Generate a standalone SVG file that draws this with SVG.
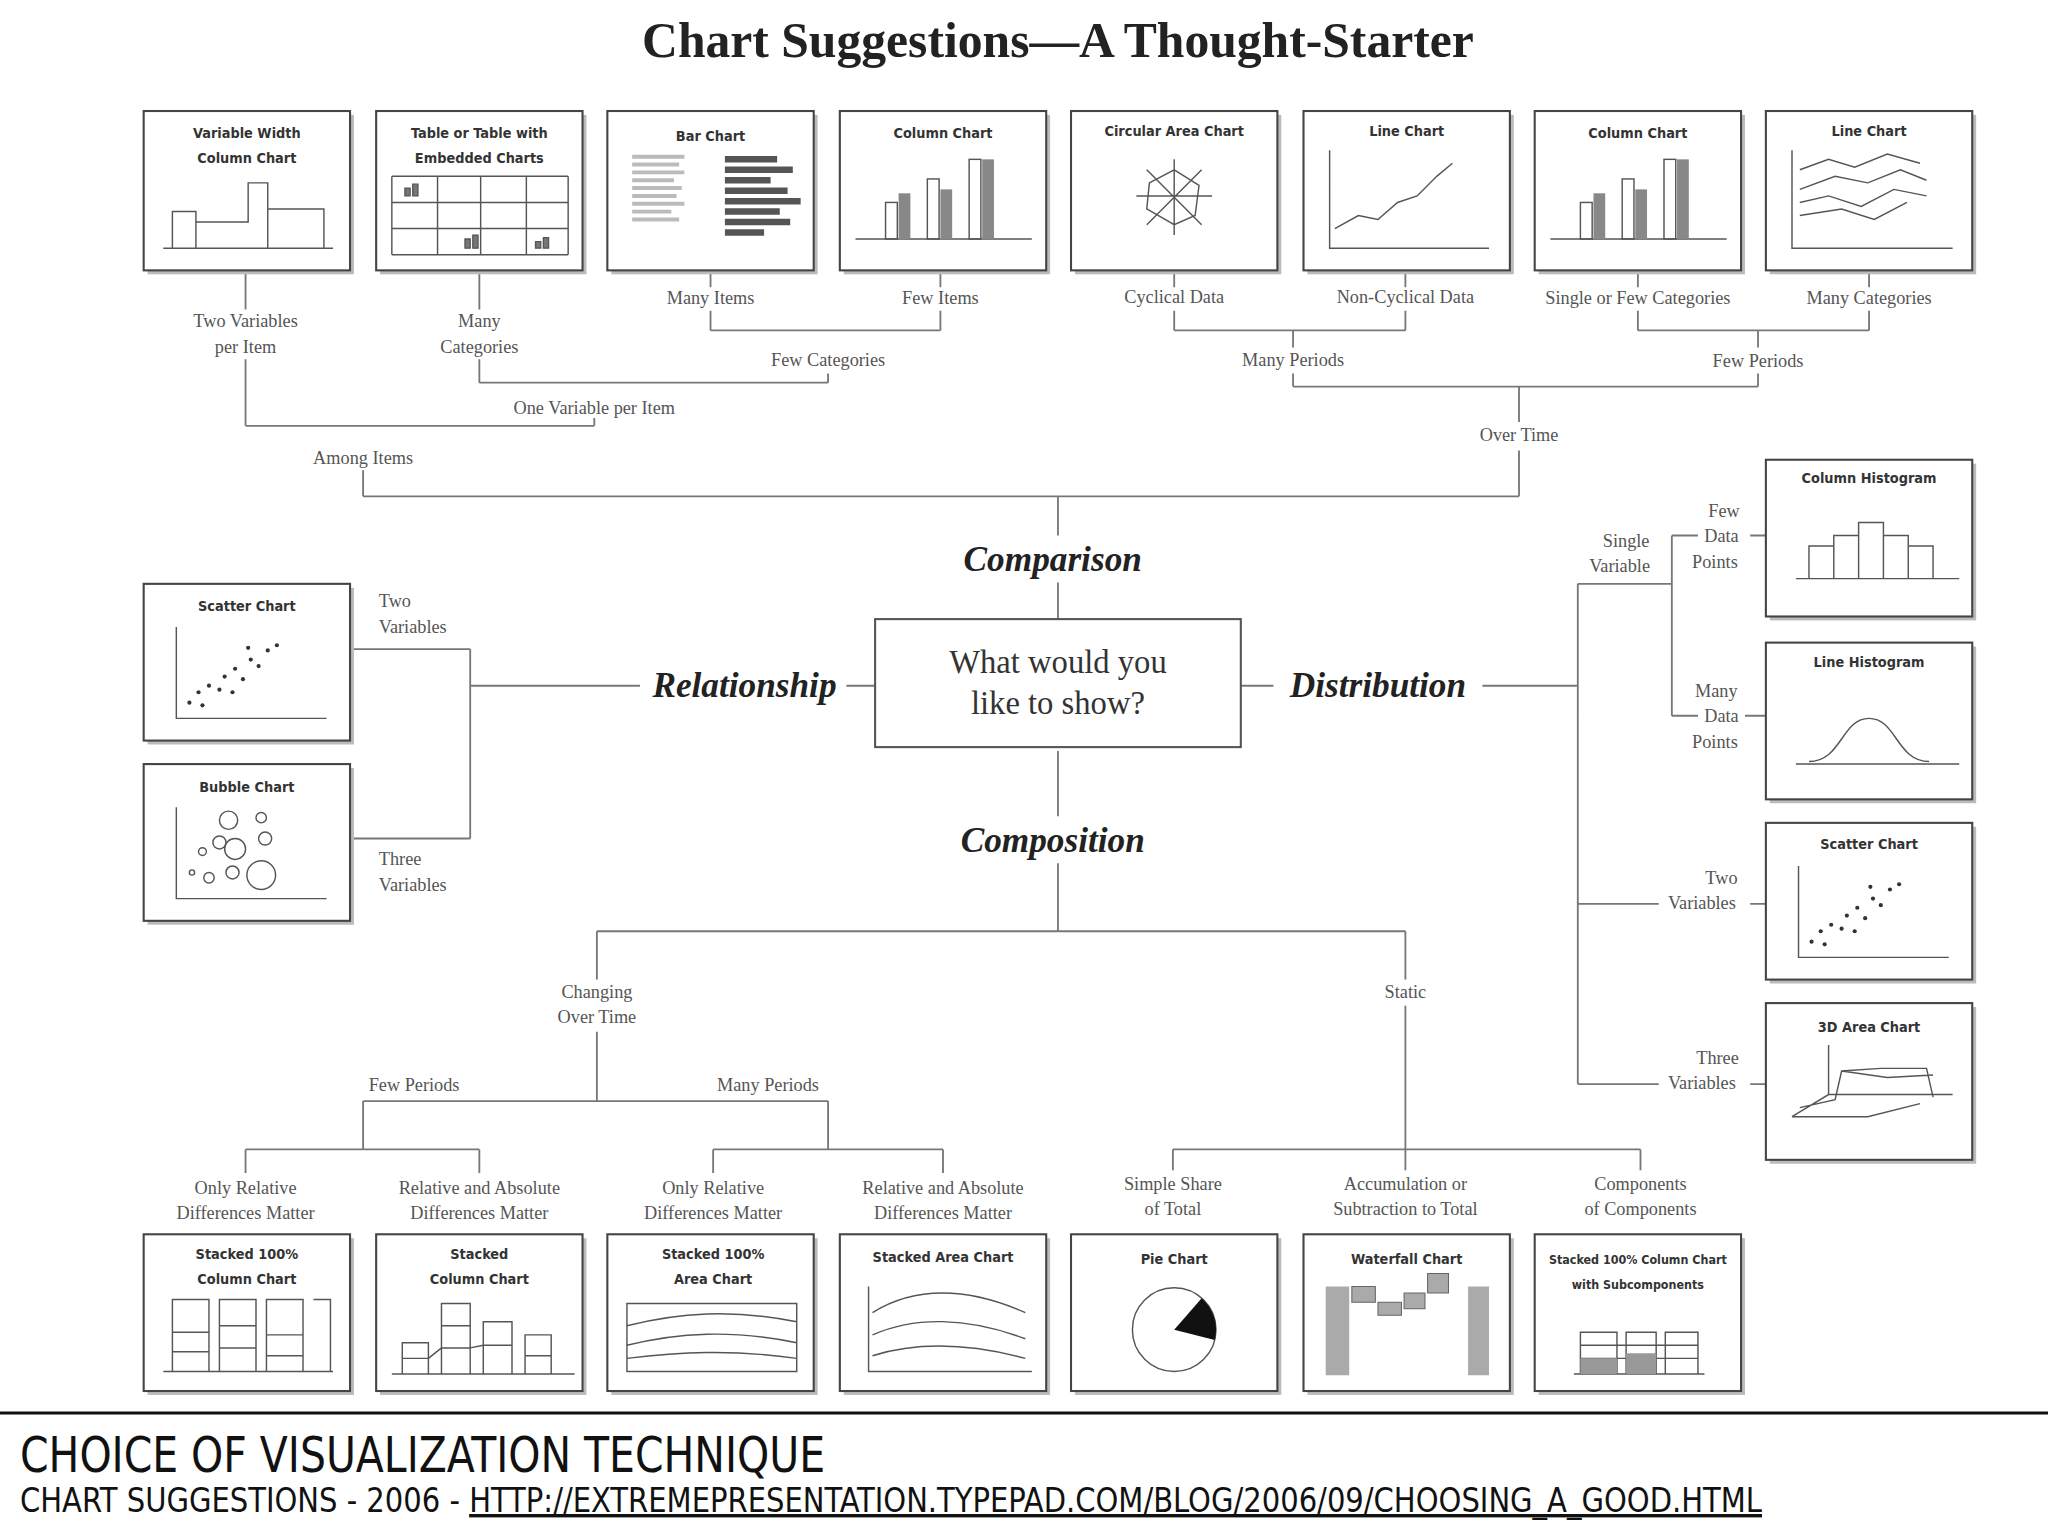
<svg xmlns="http://www.w3.org/2000/svg" width="2048" height="1535" viewBox="0 0 2048 1535">
<style>
.bx{fill:#fff;stroke:#444;stroke-width:1.6}
.sh{fill:#bbb}
.bt{font-family:"DejaVu Sans Condensed","DejaVu Sans",sans-serif;font-size:11px;fill:#333;text-anchor:middle;font-weight:bold}
.bts{font-size:9.5px}
.lb{font-family:"Liberation Serif",serif;font-size:14px;fill:#555;text-anchor:middle}
.lbl{font-family:"Liberation Serif",serif;font-size:14px;fill:#555}
.cat{font-family:"Liberation Serif",serif;font-size:27px;font-weight:bold;font-style:italic;fill:#222;text-anchor:middle}
.ln{fill:none;stroke:#777;stroke-width:1.4}
.ic{fill:none;stroke:#555;stroke-width:1.1}
.icf{fill:#777;stroke:#555;stroke-width:1}
</style>
<rect width="2048" height="1535" fill="#fff"/>
<g transform="scale(1.30612)">
<text x="810" y="44" font-family="Liberation Serif,serif" font-size="38" font-weight="bold" fill="#222" text-anchor="middle">Chart Suggestions—A Thought-Starter</text>

<g id="connectors">
<path class="ln" d="M810 380V410M810 446V474M278 380H1163M278 380V360M188 326H455M188 326V275M188 237V207M455 326V320M367 293H634M367 293V275M367 237V207M634 293V286M544 253H720M544 253V238M544 220V207M720 253V238M720 220V207"/>
<path class="ln" d="M1163 380V345M1163 323V296M990 296H1346M990 296V286M1346 296V286M899 253H1076M899 253V238M899 220V207M1076 253V238M1076 220V207M1254 253H1431M1254 253V238M1254 220V207M1431 253V238M1431 220V207M990 266V253M1346 266V253"/>
<path class="ln" d="M360 525H490M648 525H670M360 497V642M268 497H360M268 642H360"/>
<path class="ln" d="M950 525H975M1135 525H1208M1208 447V830M1208 447H1280M1280 410V548M1280 410H1300M1280 548H1300M1340 410H1352M1336 548H1352M1208 692H1270M1340 692H1352M1208 830H1270M1340 830H1352"/>
<path class="ln" d="M810 575V625M810 661V713M457 713H1076M457 713V750M457 790V843M278 843H634M278 843V880M634 843V880M188 880H367M188 880V898M367 880V898M546 880H722M546 880V898M722 880V898M1076 713V750M1076 770V880M898 880H1256M898 880V896M1076 880V896M1256 880V896"/>
</g>

<g id="labels">
<text class="lb" x="188" y="250">Two Variables</text><text class="lb" x="188" y="270">per Item</text>
<text class="lb" x="367" y="250">Many</text><text class="lb" x="367" y="270">Categories</text>
<text class="lb" x="455" y="317">One Variable per Item</text>
<text class="lb" x="278" y="355">Among Items</text>
<text class="lb" x="544" y="233">Many Items</text><text class="lb" x="720" y="233">Few Items</text>
<text class="lb" x="634" y="280">Few Categories</text>
<text class="lb" x="899" y="232">Cyclical Data</text><text class="lb" x="1076" y="232">Non-Cyclical Data</text>
<text class="lb" x="1254" y="233">Single or Few Categories</text><text class="lb" x="1431" y="233">Many Categories</text>
<text class="lb" x="990" y="280">Many Periods</text><text class="lb" x="1346" y="281">Few Periods</text>
<text class="lb" x="1163" y="338">Over Time</text>
<text class="lbl" x="290" y="465">Two</text><text class="lbl" x="290" y="485">Variables</text>
<text class="lbl" x="290" y="662">Three</text><text class="lbl" x="290" y="682">Variables</text>
<text class="lb" x="1245" y="419">Single</text><text class="lb" x="1240" y="438">Variable</text>
<text class="lb" x="1320" y="396">Few</text><text class="lb" x="1318" y="415">Data</text><text class="lb" x="1313" y="435">Points</text>
<text class="lb" x="1314" y="534">Many</text><text class="lb" x="1318" y="553">Data</text><text class="lb" x="1313" y="573">Points</text>
<text class="lb" x="1318" y="677">Two</text><text class="lb" x="1303" y="696">Variables</text>
<text class="lb" x="1315" y="815">Three</text><text class="lb" x="1303" y="834">Variables</text>
<text class="lb" x="457" y="764">Changing</text><text class="lb" x="457" y="783">Over Time</text>
<text class="lb" x="1076" y="764">Static</text>
<text class="lb" x="317" y="835">Few Periods</text><text class="lb" x="588" y="835">Many Periods</text>
<text class="lb" x="188" y="914">Only Relative</text><text class="lb" x="188" y="933">Differences Matter</text>
<text class="lb" x="367" y="914">Relative and Absolute</text><text class="lb" x="367" y="933">Differences Matter</text>
<text class="lb" x="546" y="914">Only Relative</text><text class="lb" x="546" y="933">Differences Matter</text>
<text class="lb" x="722" y="914">Relative and Absolute</text><text class="lb" x="722" y="933">Differences Matter</text>
<text class="lb" x="898" y="911">Simple Share</text><text class="lb" x="898" y="930">of Total</text>
<text class="lb" x="1076" y="911">Accumulation or</text><text class="lb" x="1076" y="930">Subtraction to Total</text>
<text class="lb" x="1256" y="911">Components</text><text class="lb" x="1256" y="930">of Components</text>
<text class="cat" x="806" y="437">Comparison</text>
<text class="cat" x="570" y="534">Relationship</text>
<text class="cat" x="1055" y="534">Distribution</text>
<text class="cat" x="806" y="652">Composition</text>
</g>

<g id="center"><rect x="670" y="474" width="280" height="98" fill="#fff" stroke="#555" stroke-width="1.6"/>
<text x="810" y="515" font-family="Liberation Serif,serif" font-size="25" fill="#333" text-anchor="middle">What would you</text>
<text x="810" y="547" font-family="Liberation Serif,serif" font-size="25" fill="#333" text-anchor="middle">like to show?</text></g>

<g id="n1"><rect class="sh" x="113" y="88" width="158" height="122"/><rect class="bx" x="110" y="85" width="158" height="122"/>
<text class="bt" x="189" y="106">Variable Width</text><text class="bt" x="189" y="125">Column Chart</text>
<path class="ic" d="M125 190H255M132 190V162H150V190M150 190V170H190V140H205V190M205 190V160H248V190"/></g>
<g id="n2"><rect class="sh" x="291" y="88" width="158" height="122"/><rect class="bx" x="288" y="85" width="158" height="122"/>
<text class="bt" x="367" y="106">Table or Table with</text><text class="bt" x="367" y="125">Embedded Charts</text>
<path class="ic" d="M300 135H435M300 155H435M300 175H435M300 195H435M300 135V195M335 135V195M368 135V195M403 135V195M435 135V195"/>
<path class="icf" d="M310 150h4v-6h-4zM316 150h4v-9h-4zM356 190h4v-7h-4zM362 190h4v-10h-4zM410 190h4v-5h-4zM416 190h4v-8h-4z"/></g>
<g id="n3"><rect class="sh" x="468" y="88" width="158" height="122"/><rect class="bx" x="465" y="85" width="158" height="122"/>
<text class="bt" x="544" y="108">Bar Chart</text>
<path d="M484 120h40M484 126h36M484 132h40M484 138h32M484 144h38M484 150h34M484 156h40M484 162h30M484 168h36" stroke="#bbb" stroke-width="3"/>
<path d="M555 122h40M555 130h52M555 138h35M555 146h48M555 154h58M555 162h42M555 170h50M555 178h30" stroke="#555" stroke-width="5"/></g>
<g id="n4"><rect class="sh" x="646" y="88" width="158" height="122"/><rect class="bx" x="643" y="85" width="158" height="122"/>
<text class="bt" x="722" y="106">Column Chart</text>
<path class="ic" d="M655 183H790"/><rect x="678" y="155" width="9" height="28" class="ic"/><rect x="688" y="148" width="9" height="35" fill="#888"/><rect x="710" y="137" width="9" height="46" class="ic"/><rect x="720" y="145" width="9" height="38" fill="#888"/><rect x="742" y="122" width="9" height="61" class="ic"/><rect x="752" y="122" width="9" height="61" fill="#888"/></g>
<g id="n5"><rect class="sh" x="823" y="88" width="158" height="122"/><rect class="bx" x="820" y="85" width="158" height="122"/>
<text class="bt" x="899" y="104">Circular Area Chart</text>
<path class="ic" d="M899 122V180M870 150H928M878 130L920 172M920 130L878 172M880 140L899 130L918 142L915 165L899 172L878 160Z"/></g>
<g id="n6"><rect class="sh" x="1001" y="88" width="158" height="122"/><rect class="bx" x="998" y="85" width="158" height="122"/>
<text class="bt" x="1077" y="104">Line Chart</text>
<path class="ic" d="M1018 115V190H1140M1022 175L1040 165L1055 168L1070 155L1085 150L1100 135L1112 125"/></g>
<g id="n7"><rect class="sh" x="1178" y="88" width="158" height="122"/><rect class="bx" x="1175" y="85" width="158" height="122"/>
<text class="bt" x="1254" y="106">Column Chart</text>
<path class="ic" d="M1187 183H1322"/><rect x="1210" y="155" width="9" height="28" class="ic"/><rect x="1220" y="148" width="9" height="35" fill="#888"/><rect x="1242" y="137" width="9" height="46" class="ic"/><rect x="1252" y="145" width="9" height="38" fill="#888"/><rect x="1274" y="122" width="9" height="61" class="ic"/><rect x="1284" y="122" width="9" height="61" fill="#888"/></g>
<g id="n8"><rect class="sh" x="1355" y="88" width="158" height="122"/><rect class="bx" x="1352" y="85" width="158" height="122"/>
<text class="bt" x="1431" y="104">Line Chart</text>
<path class="ic" d="M1372 115V190H1495M1378 130L1400 122L1420 128L1445 118L1470 125M1378 145L1405 135L1430 140L1455 130L1475 138M1378 155L1400 150L1425 158L1450 145L1475 150M1378 165L1410 160L1435 168L1460 155"/></g>

<g id="n9"><rect class="sh" x="113" y="450" width="158" height="120"/><rect class="bx" x="110" y="447" width="158" height="120"/>
<text class="bt" x="189" y="468">Scatter Chart</text>
<path class="ic" d="M135 480V550H250"/>
<g fill="#333"><circle cx="145" cy="538" r="1.6"/><circle cx="152" cy="530" r="1.6"/><circle cx="160" cy="525" r="1.6"/><circle cx="168" cy="528" r="1.6"/><circle cx="172" cy="518" r="1.6"/><circle cx="180" cy="512" r="1.6"/><circle cx="186" cy="520" r="1.6"/><circle cx="192" cy="505" r="1.6"/><circle cx="198" cy="510" r="1.6"/><circle cx="205" cy="498" r="1.6"/><circle cx="212" cy="494" r="1.6"/><circle cx="178" cy="530" r="1.6"/><circle cx="190" cy="496" r="1.6"/><circle cx="155" cy="540" r="1.6"/></g></g>
<g id="n10"><rect class="sh" x="113" y="588" width="158" height="120"/><rect class="bx" x="110" y="585" width="158" height="120"/>
<text class="bt" x="189" y="606">Bubble Chart</text>
<path class="ic" d="M135 618V688H250"/>
<g class="ic"><circle cx="175" cy="628" r="7"/><circle cx="200" cy="626" r="4"/><circle cx="168" cy="645" r="5"/><circle cx="180" cy="650" r="8"/><circle cx="203" cy="642" r="5"/><circle cx="155" cy="652" r="3"/><circle cx="147" cy="668" r="2"/><circle cx="160" cy="672" r="4"/><circle cx="178" cy="668" r="5"/><circle cx="200" cy="670" r="11"/></g></g>

<g id="n11"><rect class="sh" x="1355" y="355" width="158" height="120"/><rect class="bx" x="1352" y="352" width="158" height="120"/>
<text class="bt" x="1431" y="370">Column Histogram</text>
<path class="ic" d="M1375 443H1500M1385 443V418H1404V443M1404 443V410H1423V443M1423 443V400H1442V443M1442 443V410H1461V443M1461 443V418H1480V443"/></g>
<g id="n12"><rect class="sh" x="1355" y="495" width="158" height="120"/><rect class="bx" x="1352" y="492" width="158" height="120"/>
<text class="bt" x="1431" y="511">Line Histogram</text>
<path class="ic" d="M1375 585H1500M1385 583C1410 583 1410 550 1431 550C1452 550 1452 583 1477 583"/></g>
<g id="n13"><rect class="sh" x="1355" y="633" width="158" height="120"/><rect class="bx" x="1352" y="630" width="158" height="120"/>
<text class="bt" x="1431" y="650">Scatter Chart</text>
<path class="ic" d="M1377 663V733H1492"/>
<g fill="#333"><circle cx="1387" cy="721" r="1.6"/><circle cx="1394" cy="713" r="1.6"/><circle cx="1402" cy="708" r="1.6"/><circle cx="1410" cy="711" r="1.6"/><circle cx="1414" cy="701" r="1.6"/><circle cx="1422" cy="695" r="1.6"/><circle cx="1428" cy="703" r="1.6"/><circle cx="1434" cy="688" r="1.6"/><circle cx="1440" cy="693" r="1.6"/><circle cx="1447" cy="681" r="1.6"/><circle cx="1454" cy="677" r="1.6"/><circle cx="1420" cy="713" r="1.6"/><circle cx="1432" cy="679" r="1.6"/><circle cx="1397" cy="723" r="1.6"/></g></g>
<g id="n14"><rect class="sh" x="1355" y="771" width="158" height="120"/><rect class="bx" x="1352" y="768" width="158" height="120"/>
<text class="bt" x="1431" y="790">3D Area Chart</text>
<path class="ic" d="M1372 855L1400 838H1495M1400 838V800M1378 848L1405 842L1410 820L1440 818H1475L1480 840M1410 820L1445 825L1480 823M1372 855L1430 855L1470 845"/></g>

<g id="n15"><rect class="sh" x="113" y="948" width="158" height="120"/><rect class="bx" x="110" y="945" width="158" height="120"/>
<text class="bt" x="189" y="964">Stacked 100%</text><text class="bt" x="189" y="983">Column Chart</text>
<path class="ic" d="M125 1050H255M132 995H160V1050H132ZM168 995H196V1050H168ZM204 995H232V1050H204ZM240 995H253V1050M132 1020H160M132 1035H160M168 1015H196M168 1032H196M204 1022H232M204 1038H232"/></g>
<g id="n16"><rect class="sh" x="291" y="948" width="158" height="120"/><rect class="bx" x="288" y="945" width="158" height="120"/>
<text class="bt" x="367" y="964">Stacked</text><text class="bt" x="367" y="983">Column Chart</text>
<path class="ic" d="M300 1052H440M308 1052V1028H328V1052M308 1040H328M338 1052V998H360V1052M338 1015H360M338 1032H360M370 1052V1012H392V1052M370 1030H392M402 1052V1022H422V1052M402 1038H422M328 1040L338 1032M360 1032L370 1030"/></g>
<g id="n17"><rect class="sh" x="468" y="948" width="158" height="120"/><rect class="bx" x="465" y="945" width="158" height="120"/>
<text class="bt" x="546" y="964">Stacked 100%</text><text class="bt" x="546" y="983">Area Chart</text>
<path class="ic" d="M480 998H610V1050H480ZM480 1015C520 1005 560 1002 610 1012M480 1030C520 1020 560 1018 610 1028M480 1040C520 1035 560 1033 610 1040"/></g>
<g id="n18"><rect class="sh" x="646" y="948" width="158" height="120"/><rect class="bx" x="643" y="945" width="158" height="120"/>
<text class="bt" x="722" y="966">Stacked Area Chart</text>
<path class="ic" d="M665 985V1050H790M668 1005C700 985 740 985 785 1005M668 1022C700 1008 740 1008 785 1025M668 1038C700 1028 740 1028 785 1040"/></g>
<g id="n19"><rect class="sh" x="823" y="948" width="158" height="120"/><rect class="bx" x="820" y="945" width="158" height="120"/>
<text class="bt" x="899" y="968">Pie Chart</text>
<circle cx="899" cy="1018" r="32" class="ic"/><path d="M899 1018L920 994A32 32 0 0 1 930 1026Z" fill="#111"/></g>
<g id="n20"><rect class="sh" x="1001" y="948" width="158" height="120"/><rect class="bx" x="998" y="945" width="158" height="120"/>
<text class="bt" x="1077" y="968">Waterfall Chart</text>
<path d="M1015 985h18v68h-18zM1124 985h16v68h-16z" fill="#aaa"/><path d="M1035 985h18v12h-18zM1055 997h18v10h-18zM1075 990h16v12h-16zM1093 975h16v15h-16z" fill="#aaa" stroke="#666" stroke-width="0.8"/></g>
<g id="n21"><rect class="sh" x="1178" y="948" width="158" height="120"/><rect class="bx" x="1175" y="945" width="158" height="120"/>
<text class="bt bts" x="1254" y="968">Stacked 100% Column Chart</text><text class="bt bts" x="1254" y="987">with Subcomponents</text>
<path class="ic" d="M1205 1052H1305M1210 1020H1238V1052H1210ZM1245 1020H1268V1052H1245ZM1275 1020H1300V1052H1275ZM1210 1030H1300M1210 1040H1300"/><path d="M1210 1040h28v12h-28zM1245 1036h23v16h-23z" fill="#999"/></g>
</g>
<line x1="0" y1="1413" x2="2048" y2="1413" stroke="#111" stroke-width="3"/>
<text x="20" y="1472" font-family="DejaVu Sans Condensed,DejaVu Sans,sans-serif" font-size="50" fill="#111" textLength="805" lengthAdjust="spacingAndGlyphs">CHOICE OF VISUALIZATION TECHNIQUE</text>
<text x="20" y="1512" font-family="DejaVu Sans Condensed,DejaVu Sans,sans-serif" font-size="34" fill="#111" textLength="1742" lengthAdjust="spacingAndGlyphs">CHART SUGGESTIONS - 2006 - <tspan text-decoration="underline">HTTP://EXTREMEPRESENTATION.TYPEPAD.COM/BLOG/2006/09/CHOOSING_A_GOOD.HTML</tspan></text>
</svg>
